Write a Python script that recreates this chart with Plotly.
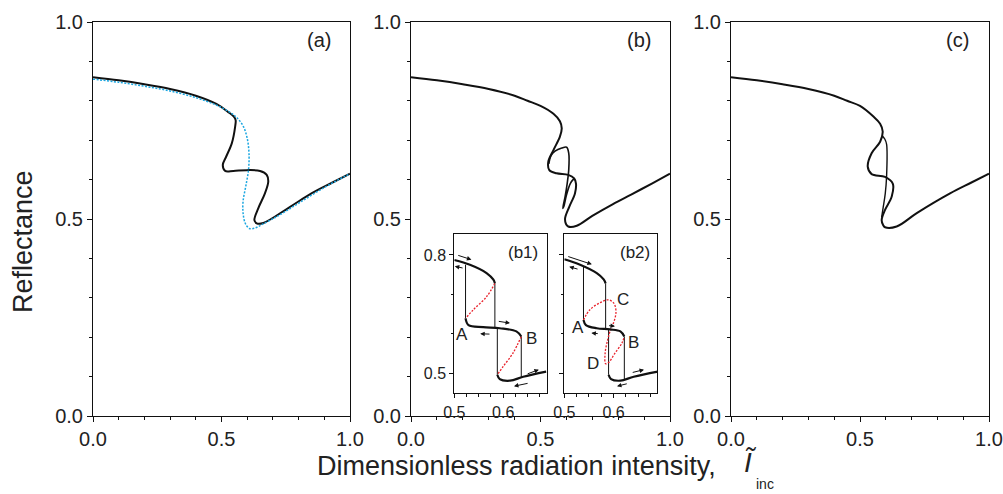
import plotly.graph_objects as go

# ---------------- data ----------------
# Panel (a)
a_solid_I = [0, 0.1, 0.2, 0.3, 0.4, 0.48, 0.525, 0.548, 0.555, 0.553, 0.540, 0.518, 0.505, 0.514, 0.546, 0.598, 0.650, 0.676, 0.682, 0.669, 0.643, 0.628, 0.637, 0.663, 0.767, 0.85, 0.93, 1.0]
a_solid_R = [0.860, 0.852, 0.842, 0.830, 0.813, 0.792, 0.772, 0.760, 0.751, 0.734, 0.692, 0.658, 0.637, 0.622, 0.622, 0.624, 0.622, 0.612, 0.595, 0.565, 0.527, 0.497, 0.489, 0.490, 0.531, 0.565, 0.592, 0.615]
a_dot_I = [0, 0.1, 0.2, 0.3, 0.4, 0.48, 0.53, 0.56, 0.585, 0.600, 0.607, 0.605, 0.595, 0.584, 0.584, 0.592, 0.608, 0.630, 0.660, 0.72, 0.80, 0.90, 1.0]
a_dot_R = [0.855, 0.847, 0.837, 0.825, 0.808, 0.789, 0.772, 0.757, 0.735, 0.705, 0.667, 0.624, 0.585, 0.545, 0.515, 0.490, 0.476, 0.477, 0.487, 0.508, 0.540, 0.580, 0.615]

# Panel (b)
b_main_I = [0, 0.1, 0.2, 0.3, 0.4, 0.45, 0.50, 0.55, 0.575, 0.582, 0.575, 0.550, 0.530, 0.534, 0.562, 0.607, 0.630, 0.637, 0.633, 0.611, 0.595, 0.598, 0.607, 0.640, 0.70, 0.78, 0.85, 0.93, 1.0]
b_main_R = [0.860, 0.852, 0.842, 0.830, 0.813, 0.800, 0.787, 0.767, 0.748, 0.730, 0.709, 0.675, 0.645, 0.624, 0.616, 0.612, 0.603, 0.590, 0.565, 0.531, 0.502, 0.488, 0.481, 0.483, 0.508, 0.538, 0.562, 0.590, 0.615]
b_loop_I = [0.532, 0.540, 0.556, 0.582, 0.601, 0.609, 0.609, 0.603, 0.595, 0.586, 0.590, 0.600, 0.615, 0.630]
b_loop_R = [0.640, 0.660, 0.672, 0.680, 0.682, 0.667, 0.624, 0.590, 0.557, 0.527, 0.532, 0.560, 0.590, 0.603]

# Panel (c)
c_main_I = [0, 0.1, 0.2, 0.3, 0.4, 0.45, 0.50, 0.552, 0.578, 0.588, 0.578, 0.545, 0.530, 0.545, 0.597, 0.627, 0.623, 0.597, 0.584, 0.590, 0.597, 0.642, 0.72, 0.849, 0.93, 1.0]
c_main_R = [0.860, 0.852, 0.842, 0.830, 0.813, 0.800, 0.787, 0.760, 0.742, 0.722, 0.696, 0.667, 0.633, 0.614, 0.607, 0.590, 0.557, 0.523, 0.497, 0.484, 0.479, 0.481, 0.515, 0.565, 0.592, 0.615]
c_loop_I = [0.585, 0.596, 0.603, 0.603, 0.598, 0.590, 0.584]
c_loop_R = [0.712, 0.703, 0.690, 0.607, 0.565, 0.530, 0.505]

# Inset (b1)
b1_up_I = [0.500, 0.532, 0.566, 0.580, 0.583]
b1_up_R = [0.787, 0.775, 0.754, 0.737, 0.728]
b1_mid_I = [0.523, 0.529, 0.559, 0.593, 0.627, 0.637]
b1_mid_R = [0.639, 0.622, 0.617, 0.614, 0.606, 0.593]
b1_low_I = [0.588, 0.593, 0.614, 0.641, 0.688]
b1_low_R = [0.496, 0.485, 0.481, 0.491, 0.504]
b1_red1_I = [0.583, 0.566, 0.539, 0.523]
b1_red1_R = [0.728, 0.694, 0.661, 0.639]
b1_red2_I = [0.637, 0.620, 0.600, 0.588]
b1_red2_R = [0.593, 0.551, 0.517, 0.496]
b1_jump_I = [0.523, 0.523, None, 0.583, 0.583, None, 0.588, 0.588, None, 0.637, 0.637]
b1_jump_R = [0.775, 0.639, None, 0.728, 0.617, None, 0.614, 0.496, None, 0.593, 0.488]

# Inset (b2)
b2_up_I = [0.500, 0.532, 0.566, 0.580, 0.584]
b2_up_R = [0.789, 0.775, 0.754, 0.738, 0.728]
b2_mid_I = [0.539, 0.544, 0.566, 0.593, 0.614, 0.622]
b2_mid_R = [0.635, 0.622, 0.614, 0.611, 0.606, 0.593]
b2_low_I = [0.590, 0.595, 0.614, 0.641, 0.690]
b2_low_R = [0.496, 0.485, 0.481, 0.491, 0.504]
b2_red_I = [0.539, 0.552, 0.573, 0.590, 0.601, 0.605, 0.601, 0.595, 0.588, 0.583, 0.584, 0.590, 0.603, 0.617, 0.622]
b2_red_R = [0.635, 0.661, 0.679, 0.686, 0.677, 0.656, 0.631, 0.614, 0.584, 0.551, 0.524, 0.527, 0.551, 0.576, 0.593]
b2_jump_I = [0.539, 0.539, None, 0.584, 0.584, None, 0.590, 0.590, None, 0.622, 0.622]
b2_jump_R = [0.770, 0.635, None, 0.728, 0.614, None, 0.610, 0.496, None, 0.593, 0.485]

# arrows: (tail I, tail R, head I, head R)
b1_arrows = [(0.505, 0.800, 0.535, 0.788), (0.520, 0.766, 0.501, 0.771),
             (0.588, 0.632, 0.614, 0.627), (0.575, 0.599, 0.553, 0.600),
             (0.647, 0.497, 0.673, 0.509), (0.653, 0.475, 0.622, 0.467)]
b2_arrows = [(0.505, 0.797, 0.556, 0.776), (0.530, 0.763, 0.510, 0.770),
             (0.588, 0.621, 0.603, 0.619), (0.571, 0.600, 0.555, 0.602),
             (0.636, 0.501, 0.662, 0.509), (0.630, 0.474, 0.607, 0.467)]
b1_letters = [("A", 0.515, 0.597), ("B", 0.658, 0.589)]
b2_letters = [("A", 0.527, 0.617), ("C", 0.620, 0.686), ("B", 0.641, 0.578), ("D", 0.559, 0.525)]

main_ticks = [0.0, 0.5, 1.0]
main_ticklabels = ["0.0", "0.5", "1.0"]

# ---------------- figure ----------------
W, H = 1003, 494
FONT = "Liberation Sans, Arial, Helvetica, sans-serif"
BLACK = "#111111"
CYAN = "#1AA6E0"
RED = "#E8202A"

fig = go.Figure()

def line(x, y, xa, ya, color=BLACK, width=2, dash="solid", shape="spline"):
    fig.add_trace(go.Scatter(x=x, y=y, xaxis=xa, yaxis=ya, mode="lines",
                             line=dict(color=color, width=width, dash=dash, shape=shape, smoothing=1.0),
                             hoverinfo="skip", showlegend=False))

line(a_solid_I, a_solid_R, "x", "y", width=2)
line(a_dot_I, a_dot_R, "x", "y", color=CYAN, width=1.5, dash="2px,1.5px")
line(b_main_I, b_main_R, "x2", "y2", width=2)
line(b_loop_I, b_loop_R, "x2", "y2", width=1.6)
line(c_main_I, c_main_R, "x3", "y3", width=2)
line(c_loop_I, c_loop_R, "x3", "y3", width=1.4)

for xa, ya, up, mid, low, reds, jump in [
    ("x4", "y4", (b1_up_I, b1_up_R), (b1_mid_I, b1_mid_R), (b1_low_I, b1_low_R),
     [(b1_red1_I, b1_red1_R), (b1_red2_I, b1_red2_R)], (b1_jump_I, b1_jump_R)),
    ("x5", "y5", (b2_up_I, b2_up_R), (b2_mid_I, b2_mid_R), (b2_low_I, b2_low_R),
     [(b2_red_I, b2_red_R)], (b2_jump_I, b2_jump_R))]:
    line(jump[0], jump[1], xa, ya, width=1, shape="linear")
    for r in reds:
        line(r[0], r[1], xa, ya, color=RED, width=1.3, dash="2px,1.5px")
    for seg in (up, mid, low):
        line(seg[0], seg[1], xa, ya, width=2.2)

px_x = lambda p: p / W
px_y = lambda p: 1 - p / H

main_dom_y = [px_y(416), px_y(22)]
main_dom_x = [[px_x(93), px_x(350)], [px_x(411), px_x(670)], [px_x(731), px_x(989)]]

def main_axis(dom, anchor):
    return dict(domain=dom, anchor=anchor, range=[0, 1], showline=True, mirror=True,
                linecolor=BLACK, linewidth=1, ticks="outside", ticklen=5, tickwidth=1,
                tickcolor=BLACK, tickmode="array", tickvals=main_ticks, ticktext=main_ticklabels,
                minor=dict(dtick=0.1, tick0=0, ticklen=3, ticks="outside", tickcolor=BLACK, tickwidth=1),
                showgrid=False, zeroline=False, automargin=False,
                tickfont=dict(size=20, family=FONT, color="#222"))

layout = dict(width=W, height=H, margin=dict(l=0, r=0, t=0, b=0, pad=0, autoexpand=False),
              paper_bgcolor="white", plot_bgcolor="white", showlegend=False,
              font=dict(family=FONT, color="#222"))
for i, dom in enumerate(main_dom_x):
    sfx = "" if i == 0 else str(i + 1)
    layout["xaxis" + sfx] = main_axis(dom, "y" + sfx)
    layout["yaxis" + sfx] = main_axis(main_dom_y, "x" + sfx)

inset_dom_y = [px_y(393.3), px_y(234)]
inset_dom_x = [[px_x(454.3), px_x(546.7)], [px_x(564.3), px_x(657.3)]]
for j, dom in enumerate(inset_dom_x):
    n = str(j + 4)
    layout["xaxis" + n] = dict(domain=dom, anchor="y" + n, range=[0.5, 0.689], showline=True, mirror=True,
                               linecolor=BLACK, linewidth=1, ticks="outside", ticklen=4, tickcolor=BLACK,
                               tick0=0.5, dtick=0.1, tickformat=".1f", automargin=False,
                               minor=dict(dtick=0.025, tick0=0.5, ticklen=2.5, ticks="outside", tickcolor=BLACK),
                               showgrid=False, zeroline=False,
                               tickfont=dict(size=16, family=FONT, color="#222"))
    layout["yaxis" + n] = dict(domain=inset_dom_y, anchor="x" + n, range=[0.449, 0.853], showline=True, mirror=True,
                               linecolor=BLACK, linewidth=1, ticks="outside", ticklen=4, tickcolor=BLACK,
                               tick0=0.5, dtick=0.3, tickformat=".1f", showticklabels=(j == 0), automargin=False,
                               minor=dict(dtick=0.1, tick0=0.5, ticklen=2.5, ticks="outside", tickcolor=BLACK),
                               showgrid=False, zeroline=False,
                               tickfont=dict(size=16, family=FONT, color="#222"))

fig.update_layout(**layout)

def text_ann(text, x, y, xref, yref, size, **kw):
    d = dict(text=text, x=x, y=y, xref=xref, yref=yref, showarrow=False,
             xanchor="center", yanchor="middle", font=dict(size=size, family=FONT, color="#222"))
    d.update(kw)
    return d

ann = []
for lab, xr, yr in [("(a)", "x", "y"), ("(b)", "x2", "y2"), ("(c)", "x3", "y3")]:
    ann.append(text_ann(lab, 0.879, 0.954, xr + " domain", yr + " domain", 20))
ann.append(text_ann("(b1)", 0.743, 0.887, "x4 domain", "y4 domain", 17))
ann.append(text_ann("(b2)", 0.76, 0.887, "x5 domain", "y5 domain", 17))
for xa, ya, letters, arrows in [("x4", "y4", b1_letters, b1_arrows), ("x5", "y5", b2_letters, b2_arrows)]:
    for t, xv, yv in letters:
        ann.append(text_ann(t, xv, yv, xa, ya, 17))
    for tx, ty, hx, hy in arrows:
        ann.append(dict(text="", x=hx, y=hy, ax=tx, ay=ty, xref=xa, yref=ya, axref=xa, ayref=ya,
                        showarrow=True, arrowhead=2, arrowsize=0.9, arrowwidth=1, arrowcolor=BLACK))

ann.append(text_ann("Reflectance", px_x(23), px_y(242), "paper", "paper", 27, textangle=-90))
ann.append(text_ann("Dimensionless radiation intensity,", px_x(516), px_y(466), "paper", "paper", 27))
ann.append(text_ann("<i>Ĩ</i>", px_x(750), px_y(462), "paper", "paper", 28))
ann.append(text_ann("inc", px_x(765), px_y(484), "paper", "paper", 14))
fig.update_layout(annotations=ann)

fig.write_html("out.html")
